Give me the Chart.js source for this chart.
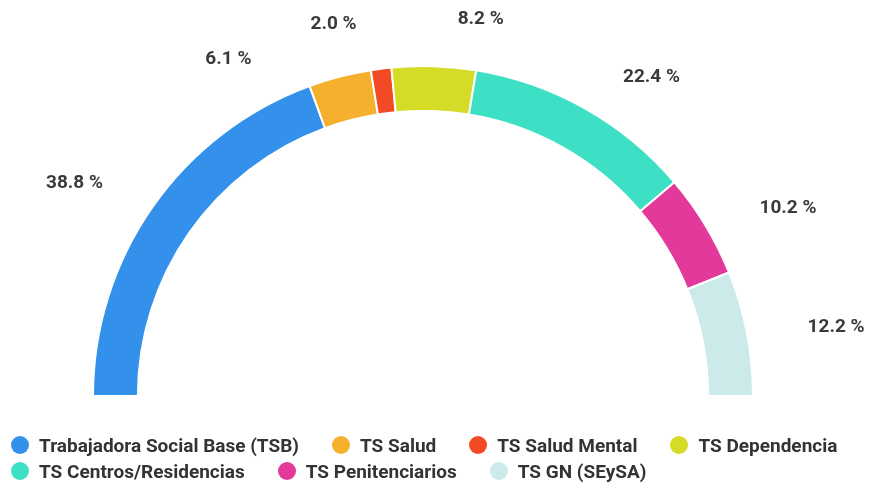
<!DOCTYPE html>
<html>
<head>
<meta charset="utf-8">
<script src="https://cdn.jsdelivr.net/npm/chart.js@4"></script>
<style>
  body { margin: 0; background: #fff; }
  #wrap { position: relative; width: 871px; height: 483px; }
  #legend { position: absolute; left: 11px; top: 432px; font: 700 19px Roboto, sans-serif; color: #333; }
  .row { display: flex; height: 26px; align-items: center; }
  .item { display: flex; align-items: center; margin-right: 33px; white-space: nowrap; }
  .dot { width: 18px; height: 18px; border-radius: 50%; margin-right: 10px; }
</style>
</head>
<body>
<div id="wrap">
  <canvas id="chart" width="871" height="483"></canvas>
  <div id="legend"></div>
</div>
<script>
const categories = ['Trabajadora Social Base (TSB)', 'TS Salud', 'TS Salud Mental', 'TS Dependencia',
                    'TS Centros/Residencias', 'TS Penitenciarios', 'TS GN (SEySA)'];
const values = [38.8, 6.1, 2.0, 8.2, 22.4, 10.2, 12.2];
const colors = ['#3391EB', '#F5B12E', '#F24A25', '#D4DC27', '#3DDFC5', '#E3399B', '#CCEAEA'];
// small angular nudges (degrees) so the crowded top labels don't collide
const labelNudge = [-1, -13, -5, 6, 3.5, 1.5, 0.5];
const legendRows = [[0, 1, 2, 3], [4, 5, 6]];

// Percentage labels around the ring
const outerLabels = {
    id: 'outerLabels',
    afterDatasetsDraw(chart) {
        const ctx = chart.ctx;
        const arcs = chart.getDatasetMeta(0).data;
        ctx.save();
        ctx.font = '700 19px Roboto, sans-serif';
        ctx.fillStyle = '#3a3a3a';
        ctx.textAlign = 'center';
        ctx.textBaseline = 'middle';
        arcs.forEach((arc, i) => {
            const mid = (arc.startAngle + arc.endAngle) / 2 + labelNudge[i] * Math.PI / 180;
            const x = arc.x + arc.outerRadius * 1.273 * Math.cos(mid);
            const y = arc.y + arc.outerRadius * 1.152 * Math.sin(mid);
            ctx.fillText(values[i].toFixed(1) + ' %', x, y);
        });
        ctx.restore();
    }
};

const ctx = document.getElementById('chart').getContext('2d');
new Chart(ctx, {
    type: 'doughnut',
    data: {
        labels: categories,
        datasets: [{
            data: values,
            backgroundColor: colors,
            borderColor: '#ffffff',
            borderWidth: 2
        }]
    },
    options: {
        responsive: false,
        animation: false,
        rotation: -90,
        circumference: 180,
        cutout: '86.4%',
        layout: { padding: { left: 92, right: 117, top: 65, bottom: 86 } },
        plugins: {
            legend: { display: false },
            tooltip: { enabled: false }
        }
    },
    plugins: [outerLabels]
});

// HTML legend
const legend = document.getElementById('legend');
legendRows.forEach(row => {
    const r = document.createElement('div');
    r.className = 'row';
    row.forEach(i => {
        const item = document.createElement('div');
        item.className = 'item';
        const dot = document.createElement('span');
        dot.className = 'dot';
        dot.style.background = colors[i];
        item.appendChild(dot);
        item.appendChild(document.createTextNode(categories[i]));
        r.appendChild(item);
    });
    legend.appendChild(r);
});
</script>
</body>
</html>
